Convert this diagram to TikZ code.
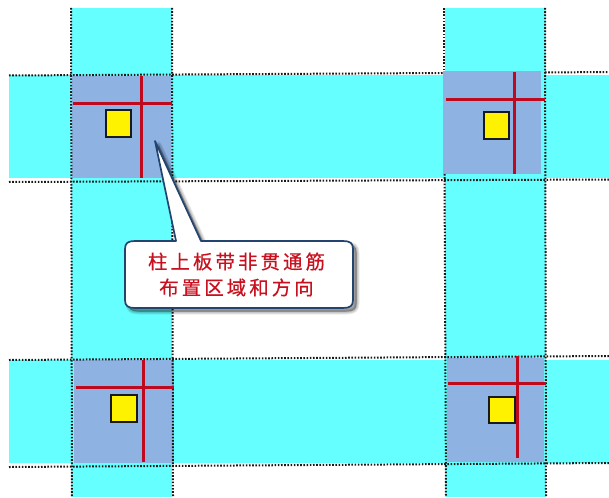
\documentclass[tikz,border=0pt]{standalone}
\usepackage{fontspec}
\newfontfamily\cjk[LetterSpace=16,FakeBold=0.5]{Noto Sans CJK SC}
\tikzset{
  strip/.style={fill=bandcyan,draw=none},
  panel/.style={fill=panelblue,draw=none},
  dots/.style={line width=2pt,dash pattern=on 1.6pt off 1.6pt,draw=black!90},
  rebar/.style={fill=barred,draw=none},
  column/.style={fill=yellow,draw=black!90,line width=2pt},
  callout/.style={fill=white,draw=calloutblue,line width=1.7pt,line join=round},
  calloutshade/.style={fill=black,draw=black,opacity=0.07,line join=round},
  label/.style={text=labelred,font=\cjk\fontsize{19.4}{26}\selectfont,align=center,inner sep=0pt}
}
\definecolor{bandcyan}{HTML}{66FFFF}
\definecolor{panelblue}{HTML}{8EB2E2}
\definecolor{barred}{HTML}{BE0A1E}
\definecolor{calloutblue}{HTML}{23446E}
\definecolor{labelred}{HTML}{C8101E}
\newcommand{\calloutpath}{
  (155,141) -- (176,241) -- (135,241) .. controls (128,241) and (125,243) .. (125,249)
  -- (125,300) .. controls (125,306) and (128,308) .. (135,308)
  -- (343,308) .. controls (350,308) and (353,306) .. (353,300)
  -- (353,249) .. controls (353,243) and (350,241) .. (343,241)
  -- (201,241) -- cycle}
\begin{document}
\begin{tikzpicture}[x=1pt,y=-1pt]
\useasboundingbox[fill=white] (0,0) rectangle (609,497);
% bands
\fill[strip] (71,8) rectangle (172,497);
\fill[strip] (445,8) rectangle (546,497);
\fill[strip] (9,75) rectangle (609,178);
\fill[strip] (9,360) rectangle (609,463);
% panels
\fill[panel] (71.5,76) rectangle (171,178);
\fill[panel] (443,71) rectangle (541,174);
\fill[panel] (74,359.5) rectangle (174,463);
\fill[panel] (446.5,358) rectangle (544,462);
% dotted outlines
\draw[dots] (71,8) -- (72,497);
\draw[dots] (172,8) -- (173,497);
\draw[dots] (444,8) -- (444,71);
\draw[dots] (444.5,174) -- (446,497);
\draw[dots] (545,8) -- (546,497);
\draw[dots] (9,75.5) -- (443,73);
\draw[dots] (545,72.5) -- (609,72);
\draw[dots] (9,182) -- (609,179.5);
\draw[dots] (9,360) -- (609,356);
\draw[dots] (9,467) -- (609,463);
% rebars
\fill[rebar] (73,102) rectangle (172,105);
\fill[rebar] (140,76) rectangle (143,178);
\fill[rebar] (446,98) rectangle (545,101);
\fill[rebar] (513,72) rectangle (516,174);
\fill[rebar] (76,386) rectangle (174,389);
\fill[rebar] (142,360) rectangle (145,462);
\fill[rebar] (448,382) rectangle (546,385);
\fill[rebar] (516,356) rectangle (519,458);
% columns
\draw[column] (105.5,110.5) rectangle (131,137);
\draw[column] (483.5,112.5) rectangle (509,139);
\draw[column] (111,395) rectangle (137,421.5);
\draw[column] (489,397) rectangle (514.5,423);
% callout
\foreach \w in {6,4.5,3,1.5,0.4}{
  \draw[calloutshade,line width=\w pt,shift={(3.5,3.5)}] \calloutpath;
}
\draw[callout] \calloutpath;
\node[label] (note) at (236.5,274.5) {柱上板带非贯通筋\\布置区域和方向};
\end{tikzpicture}
\end{document}
